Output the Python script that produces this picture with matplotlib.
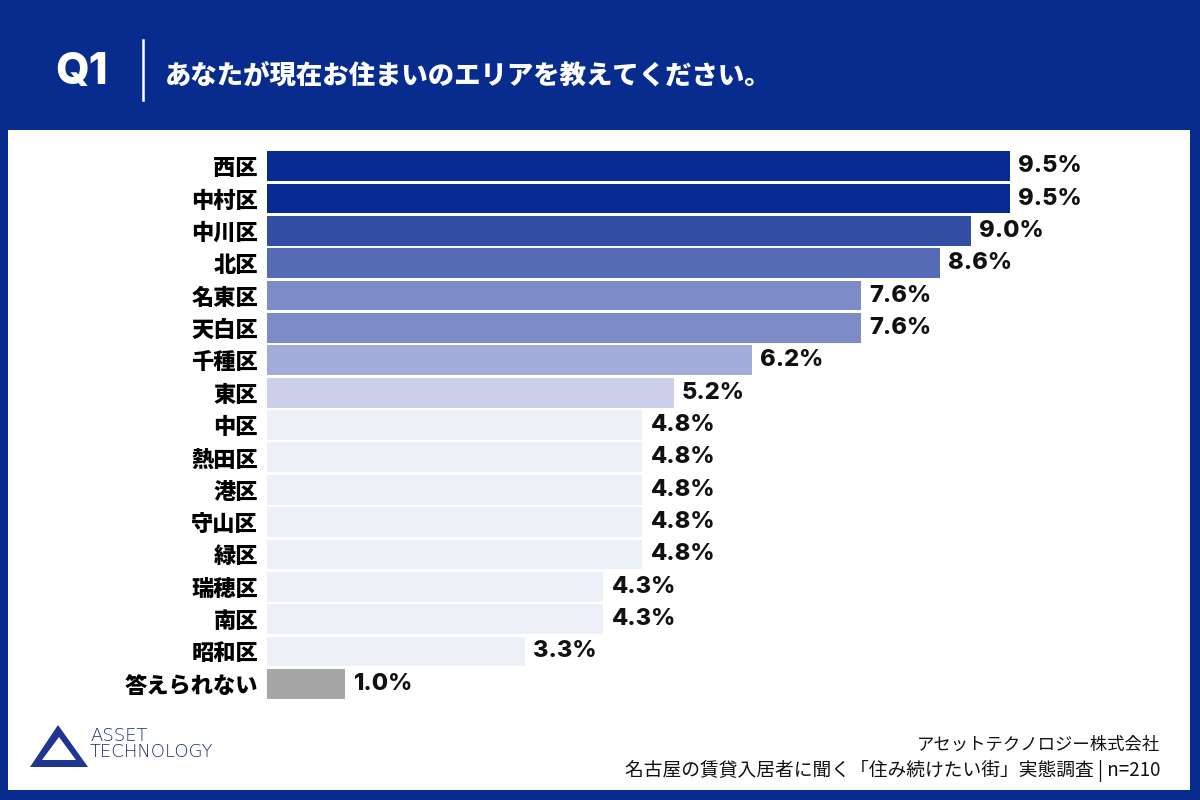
import matplotlib.pyplot as plt
from matplotlib.patches import Rectangle, Polygon
import numpy as np

plt.rcParams['font.family'] = ['Noto Sans CJK JP', 'DejaVu Sans']

# data
areas = ['西区', '中村区', '中川区', '北区', '名東区', '天白区', '千種区', '東区',
         '中区', '熱田区', '港区', '守山区', '緑区', '瑞穂区', '南区', '昭和区', '答えられない']
shares = [9.5, 9.5, 9.0, 8.6, 7.6, 7.6, 6.2, 5.2,
          4.8, 4.8, 4.8, 4.8, 4.8, 4.3, 4.3, 3.3, 1.0]
bar_colors = ['#062a91', '#062a91', '#334fa3', '#566bb5', '#7d8bc6', '#7d8bc6', '#a2acd9', '#ccd0ea',
              '#eef0f8', '#eef0f8', '#eef0f8', '#eef0f8', '#eef0f8', '#eef0f8', '#eef0f8', '#eef0f8',
              '#a6a6a6']

title = 'あなたが現在お住まいのエリアを教えてください。'
company = 'アセットテクノロジー株式会社'
survey = '名古屋の賃貸入居者に聞く「住み続けたい街」実態調査 | n=210'

W, H = 1200, 800
navy = '#082c8e'

fig = plt.figure(figsize=(12, 8), dpi=100)
fig.patch.set_facecolor(navy)

# white panel
fig.patches.append(Rectangle((8 / W, 10 / H), 1182 / W, 660 / H, transform=fig.transFigure,
                             facecolor='white', edgecolor='none', zorder=0))

# header
fig.text(55 / W, 1 - 73 / H, 'Q1', color='white', fontsize=31, fontweight='heavy',
         family=['Inter', 'Noto Sans CJK JP'], va='center', ha='left')
fig.add_artist(plt.Line2D([143 / W, 143 / W], [1 - 40 / H, 1 - 100 / H], color='white', lw=1.8))
fig.text(165 / W, 1 - 75 / H, title, color='white', fontsize=19, fontweight='heavy',
         va='center', ha='left')

# chart
ax = fig.add_axes([267 / W, 100 / H, 923 / W, 550 / H])
ax.set_zorder(5)
y = np.arange(len(areas))
px_per_unit = (1010 - 267) / 9.5
ax.barh(y, shares, height=0.92, color=bar_colors, edgecolor='none')
ax.set_xlim(0, 923 / px_per_unit)
ax.set_ylim(len(areas) - 0.5, -0.5)
ax.set_yticks(y)
ax.set_yticklabels(areas, fontsize=16, fontweight='heavy')
ax.tick_params(axis='y', length=0, pad=6.5)
ax.set_xticks([])
for s in ax.spines.values():
    s.set_visible(False)
ax.set_facecolor('none')

for yi, v in zip(y, shares):
    ax.annotate(f'{v:.1f}%', (v, yi), xytext=(6, 0), textcoords='offset points',
                va='center', ha='left', fontsize=17, fontweight='heavy', color='#111111',
                family=['Inter', 'Noto Sans CJK JP'])

# logo
tri_outer = [(30, 767), (58, 725), (88, 767)]
tri_inner = [(42, 760), (59, 737), (76, 760)]
fig.patches.append(Polygon([(x / W, 1 - yy / H) for x, yy in tri_outer], closed=True,
                           transform=fig.transFigure, facecolor='#1f3590', edgecolor='none', zorder=2))
fig.patches.append(Polygon([(x / W, 1 - yy / H) for x, yy in tri_inner], closed=True,
                           transform=fig.transFigure, facecolor='white', edgecolor='none', zorder=3))
fig.text(90 / W, 1 - 736 / H, 'ASSET', color='#1a2a70', fontsize=13,
         family=['DejaVu Sans'], fontweight='light', va='center', ha='left')
fig.text(90 / W, 1 - 752 / H, 'TECHNOLOGY', color='#1a2a70', fontsize=13,
         family=['DejaVu Sans'], fontweight='light', va='center', ha='left')

# footer
fig.text(1160 / W, 1 - 745 / H, company, color='#111111', fontsize=12.5, va='center', ha='right')
fig.text(1160 / W, 1 - 771 / H, survey, color='#111111', fontsize=13.5, va='center', ha='right')

fig.savefig('out.png', dpi=100, facecolor=fig.get_facecolor())
